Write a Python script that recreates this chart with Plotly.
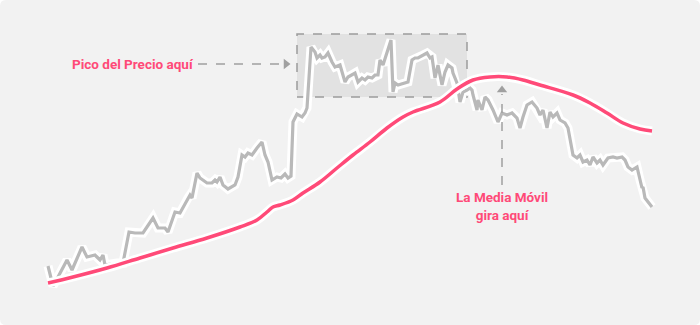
import plotly.graph_objects as go

# ---- data (day index, price) ----
price_days = [48, 53, 58, 67, 72, 82, 87, 92, 95, 98, 100, 103, 105, 117, 123, 129, 135, 143, 153, 158,
              165, 168, 175, 180, 188, 190, 192, 197, 200, 203, 207, 212, 215, 217, 220, 223, 228, 235, 238, 242,
              245, 248, 252, 257, 262, 265, 268, 272, 277, 281, 285, 288, 291, 293, 297, 302, 305, 307, 311, 315,
              317, 320, 322, 325, 328, 332, 335, 340, 345, 348, 352, 355, 358, 362, 365, 368, 372, 375, 378, 380,
              383, 387, 391, 393, 395, 398, 402, 405, 408, 412, 415, 418, 423, 427, 430, 432, 435, 438, 442, 445,
              448, 452, 453, 457, 460, 463, 467, 470, 472, 473, 477, 478, 482, 485, 488, 493, 498, 502, 507, 512,
              517, 520, 523, 527, 532, 537, 540, 543, 547, 550, 553, 557, 560, 565, 568, 573, 577, 580, 583, 587,
              590, 593, 597, 600, 603, 608, 613, 617, 622, 625, 628, 632, 637, 640, 642, 643, 645, 652]
price_px = [266, 286, 277, 260, 270, 247, 257, 256, 255, 258, 260, 255, 265, 263, 263, 232, 233, 233, 218, 228,
            228, 232, 212, 213, 198, 195, 198, 173, 178, 180, 183, 183, 180, 182, 177, 185, 189, 185, 177, 155,
            157, 153, 155, 148, 142, 155, 162, 180, 177, 178, 174, 178, 176, 122, 114, 117, 113, 108, 47, 52,
            58, 55, 58, 57, 53, 62, 67, 65, 82, 77, 75, 73, 82, 78, 80, 77, 78, 75, 75, 60,
            65, 52, 40, 92, 83, 85, 84, 83, 82, 60, 58, 58, 55, 53, 58, 57, 78, 65, 85, 72,
            65, 68, 73, 83, 102, 92, 90, 88, 90, 95, 110, 100, 110, 97, 100, 110, 122, 113, 115, 113,
            118, 128, 117, 105, 102, 108, 115, 110, 128, 112, 117, 113, 120, 123, 128, 155, 158, 155, 162, 160,
            165, 157, 163, 160, 165, 158, 157, 158, 157, 160, 167, 170, 167, 180, 188, 187, 198, 207]
price = [325 - v for v in price_px]

ma_days = [48, 73, 107, 140, 173, 207, 240, 257, 267, 273, 280, 293, 303, 320, 337, 353, 370, 387, 403, 413,
           440, 457, 473, 490, 507, 523, 540, 573, 590, 607, 623, 640, 652]
ma_px = [283, 277, 268, 258, 248, 238, 227, 220, 212, 207, 205, 200, 193, 182, 168, 155, 142, 128, 117, 112,
         102, 89, 80, 77, 77, 80, 85, 95, 103, 113, 123, 129, 131]
ma = [325 - v for v in ma_px]

peak_label = "Pico del Precio aquí"
turn_label = "La Media Móvil<br>gira aquí"

PINK = "#ff4a78"
GRAY = "#b9b9b9"
ARROW = "#a0a0a0"

fig = go.Figure()

# white halos
fig.add_trace(go.Scatter(x=price_days, y=price, mode="lines",
                         line=dict(color="white", width=9), hoverinfo="skip", showlegend=False))
fig.add_trace(go.Scatter(x=price_days, y=price, mode="lines",
                         line=dict(color=GRAY, width=3.2), hoverinfo="skip", showlegend=False))
fig.add_trace(go.Scatter(x=ma_days, y=ma, mode="lines", line_shape="spline",
                         line=dict(color="white", width=9), hoverinfo="skip", showlegend=False))
fig.add_trace(go.Scatter(x=ma_days, y=ma, mode="lines", line_shape="spline",
                         line=dict(color=PINK, width=3.5), hoverinfo="skip", showlegend=False))

# arrowheads
fig.add_trace(go.Scatter(x=[286], y=[325 - 64], mode="markers",
                         marker=dict(symbol="triangle-right", size=9, color=ARROW),
                         hoverinfo="skip", showlegend=False))
fig.add_trace(go.Scatter(x=[502], y=[325 - 90], mode="markers",
                         marker=dict(symbol="triangle-up", size=9, color=ARROW),
                         hoverinfo="skip", showlegend=False))

rx, ry = 6 / 700, 6 / 325
bg_path = (f"M {rx},0 L {1-rx},0 Q 1,0 1,{ry} L 1,{1-ry} Q 1,1 {1-rx},1 "
           f"L {rx},1 Q 0,1 0,{1-ry} L 0,{ry} Q 0,0 {rx},0 Z")

shapes = [
    dict(type="path", xref="paper", yref="paper", path=bg_path,
         fillcolor="#f2f2f2", line=dict(width=0), layer="below"),
    dict(type="rect", xref="x", yref="y", x0=297, x1=467, y0=325 - 97, y1=325 - 34,
         fillcolor="#e2e2e2", line=dict(color="#9c9c9c", width=1.5, dash="dash"), layer="below"),
    dict(type="line", xref="x", yref="y", x0=198, x1=281, y0=325 - 64, y1=325 - 64,
         line=dict(color=ARROW, width=1.5, dash="dash")),
    dict(type="line", xref="x", yref="y", x0=502, x1=502, y0=325 - 185, y1=325 - 94,
         line=dict(color=ARROW, width=1.5, dash="dash")),
]

annotations = [
    dict(x=133, y=325 - 64, xref="x", yref="y", text=peak_label, showarrow=False,
         font=dict(family="Roboto", size=13.5, color=PINK, weight="bold"), xanchor="center", yanchor="middle"),
    dict(x=502, y=325 - 206, xref="x", yref="y", text=turn_label, showarrow=False,
         font=dict(family="Roboto", size=13.5, color=PINK, weight="bold"), xanchor="center", yanchor="middle"),
]

fig.update_layout(
    width=700, height=325,
    margin=dict(l=0, r=0, t=0, b=0),
    paper_bgcolor="white", plot_bgcolor="rgba(0,0,0,0)",
    xaxis=dict(range=[0, 700], visible=False, fixedrange=True),
    yaxis=dict(range=[0, 325], visible=False, fixedrange=True),
    shapes=shapes, annotations=annotations,
)

fig.write_html("out.html", config={"displayModeBar": False})
